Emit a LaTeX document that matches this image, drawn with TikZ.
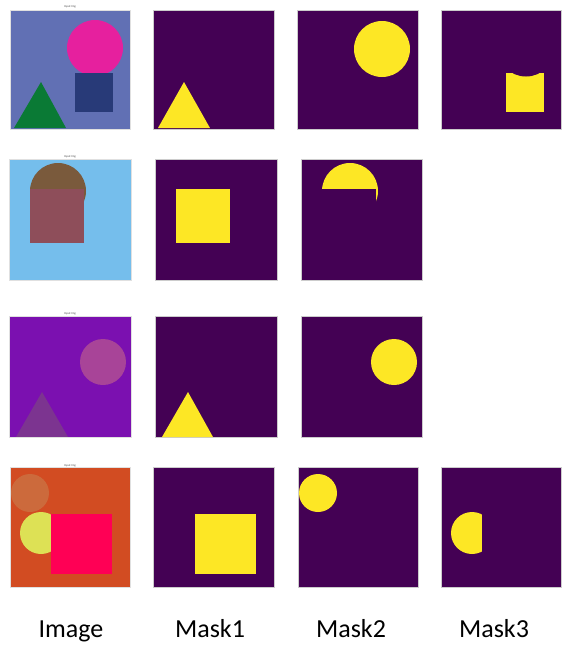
\documentclass[tikz,border=0pt]{standalone}
\usepackage{fontspec}
\setmainfont{Carlito}
\definecolor{vdark}{HTML}{440154}
\definecolor{vyel}{HTML}{FDE725}
\definecolor{bgA}{HTML}{6170B4}
\definecolor{pinkA}{HTML}{E6209E}
\definecolor{navyA}{HTML}{283A78}
\definecolor{greenA}{HTML}{0A7A35}
\definecolor{bgB}{HTML}{75BEEC}
\definecolor{brownB}{HTML}{7A5A3C}
\definecolor{rectB}{HTML}{8E4E5A}
\definecolor{bgC}{HTML}{7B10B0}
\definecolor{circC}{HTML}{A84498}
\definecolor{triC}{HTML}{7C3490}
\definecolor{bgD}{HTML}{D24C22}
\definecolor{circD}{HTML}{CC6A3C}
\definecolor{yelD}{HTML}{DDE155}
\definecolor{sqD}{HTML}{FF0055}
\tikzset{
  maskbg/.style={fill=vdark, draw=black!20, line width=0.4pt},
  imgframe/.style={draw=black!12, line width=0.4pt},
  hit/.style={fill=vyel},
  ttl/.style={font=\fontsize{3}{3}\selectfont, text=black!70, inner sep=0pt},
  lbl/.style={font=\fontsize{26}{26}\selectfont, anchor=base, inner sep=0pt}
}
\begin{document}
\begin{tikzpicture}[x=1pt,y=-1pt]
\useasboundingbox (0,0) rectangle (562,649);
% ---------- Row 1 ----------
\fill[bgA] (10,10) rectangle (130,129);
\fill[pinkA] (95,48) circle[radius=28pt];
\fill[navyA] (75,73) rectangle (113,112);
\fill[greenA] (41,82) -- (66,128) -- (14,128) -- cycle;
\draw[imgframe] (10,10) rectangle (130,129);
\node[ttl] (t1) at (70,7) {Input Img};
\draw[maskbg] (153,10) rectangle (274,129);
\fill[hit] (184,82) -- (210,128) -- (158,128) -- cycle;
\draw[maskbg] (297,10) rectangle (418,129);
\fill[hit] (382,49) circle[radius=28pt];
\draw[maskbg] (441,10) rectangle (561.5,129);
\fill[hit] (506,73) rectangle (544,112);
\fill[vdark] (526,48) circle[radius=28.5pt];
% ---------- Row 2 ----------
\fill[bgB] (9,159) rectangle (131,280);
\fill[brownB] (58,191) circle[radius=28pt];
\fill[rectB] (30,189) rectangle (84,243);
\draw[imgframe] (9,159) rectangle (131,280);
\node[ttl] (t2) at (70,157) {Input Img};
\draw[maskbg] (155,159) rectangle (277,280);
\fill[hit] (176,189) rectangle (230,243);
\draw[maskbg] (301,159) rectangle (422,280);
\fill[hit] (350,191) circle[radius=28pt];
\fill[vdark] (322,189) rectangle (376,243);
% ---------- Row 3 ----------
\fill[bgC] (9,316) rectangle (131,437);
\fill[circC] (103,362) circle[radius=23pt];
\fill[triC] (42,392) -- (68,437) -- (16,437) -- cycle;
\draw[imgframe] (9,316) rectangle (131,437);
\node[ttl] (t3) at (70,314) {Input Img};
\draw[maskbg] (155,316) rectangle (277,437);
\fill[hit] (188,392) -- (213,437) -- (162,437) -- cycle;
\draw[maskbg] (301,316) rectangle (422,437);
\fill[hit] (394,362) circle[radius=23pt];
% ---------- Row 4 ----------
\fill[bgD] (10,467) rectangle (130,587);
\fill[circD] (30,493) circle[radius=19pt];
\fill[yelD] (41,533) circle[radius=21pt];
\fill[sqD] (51,514) rectangle (112,574);
\draw[imgframe] (10,467) rectangle (130,587);
\node[ttl] (t4) at (70,466) {Input Img};
\draw[maskbg] (153,467) rectangle (274,587);
\fill[hit] (195,514) rectangle (256,574);
\draw[maskbg] (298,467) rectangle (418,587);
\fill[hit] (318,493) circle[radius=19pt];
\draw[maskbg] (441,467) rectangle (561.5,587);
\fill[hit] (472,533) circle[radius=21pt];
\fill[vdark] (482,511) rectangle (500,556);
% ---------- Labels ----------
\node[lbl] (limg) at (71,637) {Image};
\node[lbl] (lm1) at (210,637) {Mask1};
\node[lbl] (lm2) at (351,637) {Mask2};
\node[lbl] (lm3) at (494,637) {Mask3};
\end{tikzpicture}
\end{document}
